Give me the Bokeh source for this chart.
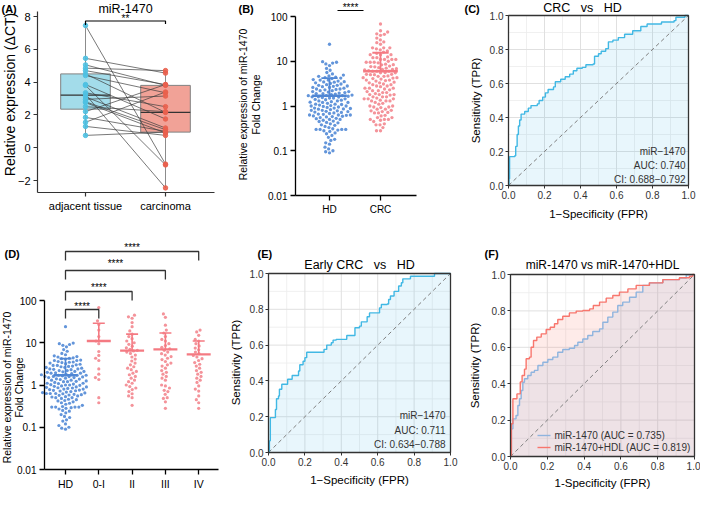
import math
from bokeh.plotting import figure
from bokeh.models import Range1d, FixedTicker, Label, CustomJSTickFormatter
from bokeh.layouts import row, column
from bokeh.embed import file_html
from bokeh.resources import INLINE

FONT = "Liberation Sans"

# ---------------- Panel A data (paired, delta CT) ----------------
a_groups = ["adjacent tissue", "carcinoma"]
a_adjacent = [7.45, 5.45, 5.05, 4.85, 4.7, 4.5, 4.4, 3.85, 3.8, 3.35, 3.25,
              3.1, 2.95, 2.8, 2.75, 2.5, 2.2, 1.85, 1.55, 1.3, 0.75]
a_carcinoma = [-1.0, 4.55, 3.8, 4.7, 3.85, 2.15, 3.35, 1.75, -1.05, 2.5, -2.45,
               1.2, 3.15, 1.1, 0.9, 2.2, 3.85, 1.0, 3.4, 0.75, 0.95]
a_q1 = [2.35, 0.95]
a_median = [3.2, 2.15]
a_q3 = [4.5, 3.8]
a_lo = [0.75, -2.45]
a_hi = [7.45, 4.7]
a_y_ticks = [-2, 0, 2, 4, 6, 8]

# ---------------- Panels B / D data (fold change) ----------------
hd_values = [
    24.0, 9.8, 9.5, 9.1, 8.7, 8.0, 6.9, 6.3,
    5.6, 5.2, 4.9, 4.7, 4.6, 4.4, 4.3, 4.2, 4.1, 3.9, 3.8, 3.8, 3.6, 3.5, 3.4, 3.3, 3.2,
    3.1, 3.0, 2.9, 2.9, 2.8, 2.7, 2.6, 2.6, 2.5, 2.4, 2.4, 2.3, 2.2, 2.2, 2.1, 2.1, 2.0,
    1.95, 1.9, 1.9, 1.85, 1.8, 1.75, 1.7, 1.7, 1.7, 1.65, 1.6, 1.6, 1.55, 1.5, 1.5, 1.45,
    1.4, 1.38, 1.35, 1.3, 1.3, 1.25, 1.2, 1.2, 1.15, 1.1, 1.1, 1.05, 1.02, 1.0, 1.0, 0.98,
    0.95, 0.93, 0.9, 0.9, 0.88, 0.85, 0.83, 0.8, 0.8, 0.78, 0.75, 0.73, 0.72, 0.7, 0.68,
    0.66, 0.65, 0.63, 0.63, 0.63, 0.62, 0.6, 0.58, 0.57, 0.55, 0.53, 0.52, 0.5, 0.5,
    0.48, 0.46, 0.45, 0.43, 0.42, 0.4, 0.38, 0.37, 0.35, 0.33, 0.31, 0.3, 0.3, 0.3, 0.3, 0.29,
    0.28, 0.27, 0.25, 0.24, 0.22, 0.2, 0.18, 0.17, 0.15, 0.14, 0.12, 0.11, 0.1, 0.095, 0.09,
    2.75, 2.35, 1.58, 1.22, 1.08, 0.86, 0.76, 0.59, 3.45, 2.05]
stage_0I = [68, 33, 27, 20, 14, 11, 9.5, 6.2, 5.0, 4.3, 3.8, 2.4, 1.8, 1.5, 1.35, 0.5, 0.38]
stage_II = [45, 41, 38, 30, 24, 19, 16, 14, 12.5, 11, 10, 9.2, 8.3, 7.6, 7.0, 6.6, 6.4, 6.0,
            5.6, 5.1, 4.6, 4.1, 3.7, 3.3, 3.0, 2.7, 2.5, 2.3, 2.1, 1.9, 1.75, 1.6, 1.45, 1.3,
            1.2, 1.1, 1.0, 0.92, 0.85, 0.78, 0.7, 0.62, 0.55, 0.5, 0.33]
stage_III = [48, 40, 26, 20, 17, 14, 12, 11, 9.5, 8.6, 7.8, 7.2, 6.6, 6.0, 5.5, 5.1, 4.7,
             4.3, 4.0, 3.6, 3.3, 3.0, 2.8, 2.5, 2.2, 2.0, 1.8, 1.6, 1.45, 1.3, 1.0, 0.95,
             0.85, 0.75, 0.7, 0.6, 0.5, 0.48, 0.4, 0.28]
stage_IV = [20, 18, 15, 12, 11, 9.5, 8.4, 7.5, 6.8, 6.0, 5.5, 5.0, 4.6, 4.2, 3.8, 3.4, 3.1,
            2.8, 2.5, 2.2, 2.0, 1.8, 1.6, 1.45, 1.3, 1.15, 0.95, 0.8, 0.72, 0.55, 0.45, 0.38, 0.28]
crc_values = stage_0I + stage_II + stage_III + stage_IV
fold_ticks = [0.01, 0.1, 1, 10, 100]

b_groups = ["HD", "CRC"]
b_center = [1.7, 6.0]
b_upper = [4.2, 15.5]

d_groups = ["HD", "0-I", "II", "III", "IV"]
d_values = [hd_values, stage_0I, stage_II, stage_III, stage_IV]
d_center = [1.7, 11.0, 6.5, 7.0, 5.3]
d_upper = [4.2, 29.0, 16.0, 17.0, 11.0]
d_compare_to = [4, 3, 2, 1]
sig_label = "****"

# ---------------- ROC data ----------------
roc_major = [0.0, 0.2, 0.4, 0.6, 0.8, 1.0]
roc_minor = [0.1, 0.3, 0.5, 0.7, 0.9]

c_fpr = [0.000, 0.003, 0.006, 0.035, 0.040, 0.048, 0.055, 0.062, 0.070, 0.090, 0.110,
         0.125, 0.160, 0.170, 0.190, 0.205, 0.220, 0.250, 0.260, 0.290, 0.315, 0.340,
         0.360, 0.380, 0.410, 0.430, 0.470, 0.478, 0.500, 0.515, 0.540, 0.555, 0.580,
         0.610, 0.645, 0.690, 0.735, 0.770, 0.850, 0.920, 0.930, 0.980, 1.000]
c_tpr = [0.000, 0.040, 0.170, 0.175, 0.230, 0.300, 0.350, 0.385, 0.420, 0.435, 0.455,
         0.470, 0.480, 0.500, 0.520, 0.545, 0.565, 0.580, 0.610, 0.625, 0.640, 0.655,
         0.675, 0.690, 0.695, 0.710, 0.715, 0.760, 0.775, 0.790, 0.805, 0.845, 0.855,
         0.870, 0.890, 0.910, 0.935, 0.950, 0.962, 0.970, 0.990, 1.000, 1.000]
c_text = ["miR\u22121470", "AUC: 0.740", "CI: 0.688\u22120.792"]

e_fpr = [0.000, 0.005, 0.010, 0.033, 0.038, 0.044, 0.055, 0.060, 0.073, 0.100, 0.105,
         0.125, 0.130, 0.160, 0.165, 0.172, 0.190, 0.200, 0.210, 0.293, 0.305, 0.320,
         0.345, 0.355, 0.372, 0.427, 0.430, 0.472, 0.475, 0.500, 0.510, 0.537, 0.542,
         0.555, 0.604, 0.610, 0.620, 0.652, 0.660, 0.670, 0.690, 0.707, 0.715, 0.730,
         0.738, 0.780, 0.903, 0.912, 1.000]
e_tpr = [0.000, 0.065, 0.195, 0.195, 0.240, 0.300, 0.316, 0.353, 0.381, 0.381, 0.409,
         0.409, 0.430, 0.430, 0.455, 0.490, 0.510, 0.530, 0.560, 0.560, 0.576, 0.600,
         0.613, 0.628, 0.632, 0.632, 0.654, 0.654, 0.697, 0.706, 0.730, 0.730, 0.758,
         0.780, 0.780, 0.808, 0.827, 0.830, 0.855, 0.874, 0.900, 0.900, 0.930, 0.948,
         0.970, 0.985, 0.985, 1.000, 1.000]
e_text = ["miR\u22121470", "AUC: 0.711", "CI: 0.634\u22120.788"]

f_red_fpr = [0.0, 0.005, 0.013, 0.030, 0.035, 0.050, 0.053, 0.063, 0.076, 0.085, 0.103,
             0.112, 0.125, 0.143, 0.167, 0.194, 0.216, 0.239, 0.257, 0.284, 0.320, 0.357,
             0.393, 0.430, 0.450, 0.484, 0.520, 0.556, 0.592, 0.638, 0.683, 0.755, 0.828,
             0.918, 0.973, 0.990, 1.0]
f_red_tpr = [0.0, 0.180, 0.317, 0.317, 0.344, 0.344, 0.410, 0.445, 0.480, 0.537, 0.546,
             0.600, 0.637, 0.656, 0.674, 0.698, 0.710, 0.729, 0.753, 0.771, 0.789, 0.799,
             0.802, 0.811, 0.830, 0.848, 0.870, 0.885, 0.903, 0.921, 0.940, 0.954, 0.972,
             0.982, 0.990, 1.0, 1.0]
f_blue_fpr = [0.0, 0.005, 0.013, 0.030, 0.040, 0.049, 0.058, 0.067, 0.076, 0.094, 0.112,
              0.130, 0.149, 0.176, 0.203, 0.230, 0.257, 0.284, 0.320, 0.348, 0.366, 0.393,
              0.420, 0.447, 0.484, 0.502, 0.529, 0.556, 0.583, 0.610, 0.647, 0.683, 0.719,
              0.755, 0.828, 0.918, 0.955, 1.0]
f_blue_tpr = [0.0, 0.152, 0.207, 0.225, 0.280, 0.317, 0.363, 0.408, 0.427, 0.445, 0.463,
              0.473, 0.500, 0.518, 0.533, 0.546, 0.573, 0.588, 0.595, 0.610, 0.628, 0.646,
              0.665, 0.687, 0.701, 0.738, 0.766, 0.793, 0.830, 0.848, 0.875, 0.903, 0.940,
              0.954, 0.972, 0.980, 0.998, 1.0]
f_labels = ["miR-1470 (AUC = 0.735)", "miR-1470+HDL (AUC = 0.819)"]


# ---------------- helpers ----------------
class Panel:
    """A figure whose frame fills the figure; data <-> page-pixel anchors given."""
    def __init__(self, left, top, w, h, xa, ya, ylog=False):
        self.ylog = ylog
        (px1, v1), (px2, v2) = xa
        self.px1, self.v1, self.kx = px1, v1, (v2 - v1) / (px2 - px1)
        (py1, u1), (py2, u2) = ya
        if ylog:
            u1, u2 = math.log10(u1), math.log10(u2)
        self.py1, self.u1, self.ky = py1, u1, (u2 - u1) / (py2 - py1)
        xr = (self.dx(left), self.dx(left + w))
        yr = (self.dy(top + h), self.dy(top))
        p = figure(width=w, height=h, x_range=Range1d(*xr), y_range=Range1d(*yr),
                   y_axis_type="log" if ylog else "linear", output_backend="svg",
                   toolbar_location=None, title=None, min_border=0,
                   min_border_left=0, min_border_right=0, min_border_top=0,
                   min_border_bottom=0)
        p.outline_line_color = None
        p.xgrid.visible = False
        p.ygrid.visible = False
        self.p = p

    def dx(self, px):
        return self.v1 + (px - self.px1) * self.kx

    def dy(self, py):
        u = self.u1 + (py - self.py1) * self.ky
        return 10 ** u if self.ylog else u

    def label(self, s, x, y, size="11px", align="center", baseline="middle", angle=0,
              bold=False, color="#000000"):
        self.p.add_layout(Label(x=x, y=y, text=s, text_font=FONT, text_font_size=size,
                                text_align=align, text_baseline=baseline, angle=angle,
                                angle_units="deg", text_color=color,
                                text_font_style="bold" if bold else "normal"))

    def text(self, s, px, py, **kw):
        self.label(s, self.dx(px), self.dy(py), **kw)

    def axes(self, x_at_py, y_at_px, xb_px, yb_py, size, color="#000000", line="#000000",
             lw=1.0, out=4, standoff=3):
        p = self.p
        p.xaxis.fixed_location = self.dy(x_at_py)
        p.yaxis.fixed_location = self.dx(y_at_px)
        p.xaxis.bounds = (self.dx(xb_px[0]), self.dx(xb_px[1]))
        p.yaxis.bounds = (self.dy(yb_py[0]), self.dy(yb_py[1]))
        for ax in (p.xaxis[0], p.yaxis[0]):
            ax.major_label_text_font = FONT
            ax.major_label_text_font_size = size
            ax.major_label_text_color = color
            ax.axis_line_color = line
            ax.axis_line_width = lw
            ax.major_tick_line_color = line
            ax.major_tick_line_width = lw
            ax.major_tick_out = out
            ax.major_tick_in = 0
            ax.minor_tick_line_color = None
            ax.major_label_standoff = standoff


def cat_formatter(labels):
    return CustomJSTickFormatter(args=dict(labels=list(labels)),
                                 code="return labels[Math.round(tick)];")


def swarm_offsets(vals, px_per_dec, d):
    ys = [math.log10(v) * px_per_dec for v in vals]
    order = sorted(range(len(vals)), key=lambda i: ys[i])
    placed, out = [], [0.0] * len(vals)
    for i in order:
        y = ys[i]
        near = [(qx, qy) for (qx, qy) in placed if abs(qy - y) < d]
        cands = [0.0]
        for qx, qy in near:
            h = math.sqrt(max(d * d - (qy - y) ** 2, 0.0))
            cands += [qx + h, qx - h]
        cands.sort(key=lambda c: (abs(c), c))
        for c in cands:
            if all((c - qx) ** 2 + (y - qy) ** 2 >= d * d - 1e-6 for qx, qy in near):
                out[i] = c
                placed.append((c, y))
                break
    return out


def staircase(fpr, tpr):
    xs, ys = [fpr[0]], [tpr[0]]
    for i in range(1, len(fpr)):
        xs += [fpr[i], fpr[i]]
        ys += [tpr[i - 1], tpr[i]]
    return xs, ys


def roc_setup(P, box):
    l, r, t, b = box
    p = P.p
    P.axes(b, l, (l, r), (b, t), "10px", color="#333333", line="#333333", lw=1, out=3,
           standoff=2)
    for ax in (p.xaxis[0], p.yaxis[0]):
        ax.axis_line_color = None
        ax.ticker = FixedTicker(ticks=roc_major)
        ax.formatter = CustomJSTickFormatter(code="return tick.toFixed(1);")
    nmi = len(roc_minor)
    p.segment(x0=roc_minor, y0=[0] * nmi, x1=roc_minor, y1=[1] * nmi,
              line_color="#ececec", line_width=0.8)
    p.segment(x0=[0] * nmi, y0=roc_minor, x1=[1] * nmi, y1=roc_minor,
              line_color="#ececec", line_width=0.8)
    nma = len(roc_major)
    p.segment(x0=roc_major, y0=[0] * nma, x1=roc_major, y1=[1] * nma,
              line_color="#e0e0e0", line_width=1)
    p.segment(x0=[0] * nma, y0=roc_major, x1=[1] * nma, y1=roc_major,
              line_color="#e0e0e0", line_width=1)


def roc_fill(p, fpr, tpr, color, alpha):
    xs, ys = staircase(fpr, tpr)
    p.patch(xs + [1.0, 0.0], ys + [0.0, 0.0], fill_color=color, fill_alpha=alpha, line_color=None)


def roc_line(p, fpr, tpr, color):
    xs, ys = staircase(fpr, tpr)
    return p.line(xs, ys, line_color=color, line_width=1.4)


def diag(p):
    p.line([0, 1], [0, 1], line_color="#7f7f7f", line_width=1, line_dash="4 3")


def box_border(p):
    p.quad(left=[0], right=[1], bottom=[0], top=[1], fill_color=None,
           line_color="#333333", line_width=1.3)


# ================= Panel A =================
A = Panel(8, 8, 227, 242, ((93, 0), (173, 1)), ((24, 8), (188, -2)))
pa = A.p
A.axes(200, 45, (45, 222), (200, 19), "11px", line="#333333", lw=1.2, out=4)
pa.xaxis.ticker = FixedTicker(ticks=[0, 1])
pa.xaxis.formatter = cat_formatter(a_groups)
pa.yaxis.ticker = FixedTicker(ticks=a_y_ticks)
box_fill = ["#a3dcea", "#f1a297"]
for i in range(2):
    pa.segment(x0=[i, i], y0=[a_lo[i], a_q3[i]], x1=[i, i], y1=[a_q1[i], a_hi[i]],
               line_color="#8c8c8c", line_width=1)
    pa.quad(left=[i - 0.31], right=[i + 0.31], bottom=[a_q1[i]], top=[a_q3[i]],
            fill_color=box_fill[i], line_color="#808080", line_width=1)
    pa.segment(x0=[i - 0.31], x1=[i + 0.31], y0=[a_median[i]], y1=[a_median[i]],
               line_color="#333333", line_width=1.3)
n = len(a_adjacent)
pa.segment(x0=[0] * n, y0=a_adjacent, x1=[1] * n, y1=a_carcinoma,
           line_color="#3d3d3d", line_width=0.7)
pa.scatter([0] * n, a_adjacent, size=4.5, color="#4fc1e2", alpha=0.9)
pa.scatter([1] * n, a_carcinoma, size=4.5, color="#e9604e", alpha=0.9)
yb = A.dy(28.5)
pa.line([0, 0, 1, 1], [A.dy(32.5), yb, yb, A.dy(31.5)], line_color="#000000", line_width=1.2)
A.label("**", 0.5, A.dy(26), size="10px")
A.label("miR-1470", 0.5, A.dy(16), size="12.5px")
A.text("(A)", 9, 16, size="11px", align="left", bold=True)
A.text("Relative expression (\u0394CT)", 17, 102, size="14px", angle=90)

# ================= Panel B =================
B = Panel(235, 8, 235, 242, ((337, 0), (388, 1)), ((24, 100), (203, 0.01)), ylog=True)
pb = B.p
B.axes(203, 303, (303, 424), (203, 24), "10px", line="#000000", lw=1.3, out=5)
pb.xaxis.ticker = FixedTicker(ticks=[0, 1])
pb.xaxis.formatter = cat_formatter(b_groups)
pb.yaxis.ticker = FixedTicker(ticks=fold_ticks)
pb.yaxis.formatter = CustomJSTickFormatter(code="return String(tick);")
b_sets = [(hd_values, "#6395da", "#4f86d4"), (crc_values, "#f4939a", "#f47a82")]
for i, (vals, col, lc) in enumerate(b_sets):
    offs = swarm_offsets(vals, 44.75, 4.0)
    pb.scatter([i + o / 51.0 for o in offs], vals, size=3.3, color=col, line_color=None)
    pb.segment(x0=[i - 0.34], x1=[i + 0.34], y0=[b_center[i]], y1=[b_center[i]],
               line_color=lc, line_width=2.5)
    pb.segment(x0=[i], x1=[i], y0=[b_center[i]], y1=[b_upper[i]], line_color=lc, line_width=1.8)
    pb.segment(x0=[i - 0.16], x1=[i + 0.16], y0=[b_upper[i]], y1=[b_upper[i]],
               line_color=lc, line_width=1.8)
pb.line([B.dx(345), B.dx(371)], [B.dy(18), B.dy(18)], line_color="#000000", line_width=1.2)
B.text(sig_label, 358, 15, size="10px")
B.text("(B)", 246, 16, size="11px", align="left", bold=True)
B.text("Relative expression of miR-1470", 250, 112, size="10.5px", angle=90)
B.text("Fold Change", 263, 112, size="10.5px", angle=90)

# ================= Panel C =================
c_box = (516, 696, 23, 193)
C = Panel(470, 8, 238, 242, ((516, 0), (696, 1)), ((193, 0), (23, 1)))
pc = C.p
roc_setup(C, c_box)
roc_fill(pc, c_fpr, c_tpr, "#41b8e4", 0.12)
diag(pc)
roc_line(pc, c_fpr, c_tpr, "#41b8e4")
box_border(pc)
C.text("(C)", 472, 16, size="11px", align="left", bold=True)
C.text("CRC\u00a0\u00a0 vs\u00a0\u00a0 HD", 590, 15.5, size="12.5px")
C.text("Sensitivity (TPR)", 483, 108, size="11.5px", angle=90)
C.text("1\u2212Specificity (FPR)", 606, 221, size="11.5px")
for k, s in enumerate(c_text):
    C.text(s, 693, 159 + 14 * k, size="10px", align="right", color="#333333")

# ================= Panel D =================
D = Panel(8, 250, 227, 254, ((73, 0), (106.3, 1)), ((308, 100), (477, 0.01)), ylog=True)
pdd = D.p
D.axes(477, 52, (52, 226), (477, 308), "10px", line="#000000", lw=1.3, out=5)
pdd.xaxis.ticker = FixedTicker(ticks=[0, 1, 2, 3, 4])
pdd.xaxis.formatter = cat_formatter(d_groups)
pdd.xaxis.major_label_text_font_size = "10.5px"
pdd.yaxis.ticker = FixedTicker(ticks=fold_ticks)
pdd.yaxis.formatter = CustomJSTickFormatter(code="return String(tick);")
for i, vals in enumerate(d_values):
    col, lc = ("#6395da", "#4f86d4") if i == 0 else ("#f4939a", "#f47a82")
    offs = swarm_offsets(vals, 42.25, 3.9)
    pdd.scatter([i + o / 33.3 for o in offs], vals, size=3.2, color=col, line_color=None)
    pdd.segment(x0=[i - 0.36], x1=[i + 0.36], y0=[d_center[i]], y1=[d_center[i]],
                line_color=lc, line_width=2.3)
    pdd.segment(x0=[i], x1=[i], y0=[d_center[i]], y1=[d_upper[i]], line_color=lc, line_width=1.6)
    pdd.segment(x0=[i - 0.18], x1=[i + 0.18], y0=[d_upper[i]], y1=[d_upper[i]],
                line_color=lc, line_width=1.6)
br_py = [259, 278, 299, 317]
star_py = [254.5, 270.5, 294.5, 314]
for k, j in enumerate(d_compare_to):
    y1, y2 = D.dy(br_py[k]), D.dy(br_py[k] + 9)
    pdd.line([0, 0, j, j], [y2, y1, y1, y2], line_color="#333333", line_width=1.3)
    D.label(sig_label, j / 2.0, D.dy(star_py[k]), size="10px")
D.text("(D)", 12, 261, size="11px", align="left", bold=True)
D.text("Relative expression of miR-1470", 14, 395, size="10.5px", angle=90)
D.text("Fold Change", 26, 395, size="10.5px", angle=90)

# ================= Panel E =================
e_box = (276, 458, 281, 460)
E = Panel(235, 250, 235, 254, ((276, 0), (458, 1)), ((460, 0), (281, 1)))
pe = E.p
roc_setup(E, e_box)
roc_fill(pe, e_fpr, e_tpr, "#41b8e4", 0.12)
diag(pe)
roc_line(pe, e_fpr, e_tpr, "#41b8e4")
box_border(pe)
E.text("(E)", 265, 261, size="11px", align="left", bold=True)
E.text("Early CRC\u00a0\u00a0 vs\u00a0\u00a0 HD", 367, 272, size="12.5px")
E.text("Sensitivity (TPR)", 243, 370, size="11.5px", angle=90)
E.text("1\u2212Specificity (FPR)", 367, 487, size="11.5px")
for k, s in enumerate(e_text):
    E.text(s, 453, 423 + 14.5 * k, size="10px", align="right", color="#333333")

# ================= Panel F =================
f_box = (518, 702, 282, 464)
F = Panel(470, 250, 238, 254, ((518, 0), (702, 1)), ((464, 0), (282, 1)))
pf = F.p
roc_setup(F, f_box)
roc_fill(pf, f_red_fpr, f_red_tpr, "#f8766d", 0.15)
roc_fill(pf, f_blue_fpr, f_blue_tpr, "#7fa6d6", 0.12)
diag(pf)
roc_line(pf, f_blue_fpr, f_blue_tpr, "#8fb4de")
roc_line(pf, f_red_fpr, f_red_tpr, "#f8766d")
box_border(pf)
leg_colors = ["#8fb4de", "#f8766d"]
for k in range(2):
    yy = F.dy(443 + 12 * k)
    pf.segment(x0=[F.dx(545)], x1=[F.dx(558)], y0=[yy], y1=[yy], line_color=leg_colors[k],
               line_width=1.4)
    F.text(f_labels[k], 562, 443 + 12 * k, size="10px", align="left", color="#333333")
F.text("(F)", 492, 261, size="11px", align="left", bold=True)
F.text("miR-1470 vs miR-1470+HDL", 610, 272, size="12px")
F.text("Sensitivity (TPR)", 482, 373, size="11.5px", angle=90)
F.text("1-Specificity (FPR)", 610, 490, size="11.5px")

layout = column(row(pa, pb, pc), row(pdd, pe, pf))
open("out.html", "w").write(file_html(layout, INLINE))
